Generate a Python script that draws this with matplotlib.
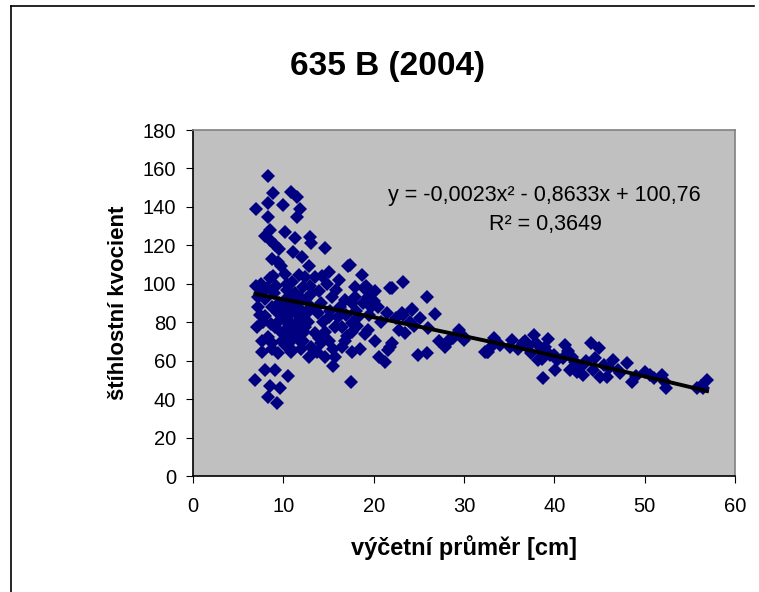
import matplotlib
matplotlib.use('Agg')
import matplotlib.pyplot as plt
import numpy as np
from matplotlib.lines import Line2D

plt.rcParams['font.family'] = ['Liberation Sans', 'DejaVu Sans']

# výčetní průměr [cm] a štíhlostní kvocient
prumer = [
    7.0, 8.3, 8.3, 8.9, 8.3, 8.0, 8.5, 9.1, 8.7, 9.4, 9.7, 7.0, 8.5, 7.2, 8.0, 8.7, 9.4, 7.05, 9.1, 9.8,
    8.3, 8.7, 7.6, 7.6, 9.4, 8.0, 9.1, 6.9, 8.5, 9.6, 8.3, 9.3, 7.5, 8.0, 9.0, 9.5, 7.8, 8.6, 9.6, 8.2,
    9.2, 7.4, 9.9, 8.8, 9.8, 7.2, 8.9, 9.5, 8.5, 7.5,
    10.0, 10.9, 11.5, 11.8, 11.5, 10.2, 11.3, 11.1, 12.8, 11.7, 12.4, 10.4, 12.2, 11.3, 10.5, 10.2, 10.9,
    11.7, 12.4, 10.5, 11.3, 10.2, 11.7, 12.2, 10.9, 12.8, 10.5, 13.0, 13.1, 13.5, 13.1, 13.5, 13.1, 10.3,
    10.8, 11.2, 11.9, 12.5, 10.6, 11.5, 12.0, 10.1, 11.0, 12.6, 10.4, 11.8, 12.3, 10.8, 12.0, 11.4, 10.0,
    12.7, 11.6, 10.7, 13.2, 12.9, 10.2, 11.0, 12.1,
    14.6, 15.0, 14.8, 17.2, 17.4, 18.7, 18.9, 17.9, 17.6, 16.8, 15.4, 14.2, 15.0, 16.1, 17.6, 18.3, 16.5,
    15.7, 14.6, 17.6, 19.0, 14.2, 16.8, 16.5, 17.6, 15.7, 15.5, 14.6, 13.7, 17.5, 19.8, 19.4, 20.1, 20.5,
    19.4, 20.1, 14.0, 15.8, 16.3, 18.0, 18.8, 19.5, 15.2, 14.4, 16.9, 17.9, 13.9, 15.0, 18.5, 19.7, 16.2,
    14.3, 18.1, 17.0, 15.5, 13.8, 19.2, 20.0,
    23.3, 22.0, 21.8, 25.9, 26.8, 24.2, 23.1, 23.3, 25.1, 23.5, 22.0, 21.6, 21.3, 24.9, 25.9, 28.3, 29.4,
    27.9, 29.4, 28.5, 24.2, 21.8, 20.8, 21.5, 22.5, 24.0, 24.5, 22.8, 26.0, 28.8, 29.9, 27.2, 20.6, 30.0,
    32.3, 32.7, 32.5, 33.3, 35.3, 35.1, 36.8, 37.7, 38.0, 39.3, 38.2, 38.8, 39.5, 40.3, 41.2, 41.5, 42.3,
    42.5, 43.2, 44.1, 44.9, 44.5, 44.3, 45.1, 45.8, 43.2, 41.0, 41.7, 40.1, 34.0, 36.0, 37.0, 38.5, 39.0,
    40.0, 42.0, 43.5, 36.5, 33.0, 38.6, 37.4,
    46.5, 47.3, 48.0, 48.6, 50.0, 50.6, 51.9, 52.4, 52.2, 55.8, 56.5, 56.9, 46.0, 47.0, 49.0, 45.5, 51.0,
    56.2,
]
kvocient = [
    139, 142, 156, 147, 135, 125, 123, 120, 113, 111.5, 109, 99, 103, 88, 83, 88, 84.6, 77.7, 77.7, 74.2,
    72.5, 69, 70, 64.7, 63.8, 55, 55, 50, 47, 45.6, 41.2, 37.8, 96, 92, 95, 90, 80, 79, 81, 98,
    99, 84, 86, 66, 70, 93, 104, 118, 128, 100,
    141, 148, 145, 139, 135, 127, 124, 116.7, 109, 104.6, 103.7, 100, 98.5, 95, 93.3, 81.2, 79.5,
    83, 77.7, 72.5, 75, 68, 70.8, 70, 64.7, 62, 52, 124.5, 121, 103.7, 88, 74.2, 67.3, 88,
    85, 90, 87, 92, 78, 80, 82, 75, 71, 85, 97, 93, 75, 66, 66, 86, 84,
    80, 77, 90, 95, 99, 105, 101, 114,
    118.5, 106, 100, 109, 110, 104.6, 98, 98.5, 89.8, 91.6, 93.3, 89.8, 82.9, 82.9, 79.5, 82.9, 77.7,
    77.7, 75, 75, 74, 69, 70, 67.3, 64.7, 62, 57, 62, 64.7, 49, 95, 93, 96, 88,
    76, 70, 96, 97, 88, 86, 90, 84, 86, 80, 84, 93, 72, 70, 66, 88, 102,
    104, 78, 73, 66, 85, 99, 91,
    101, 97.6, 97.6, 93.3, 84.3, 87, 84.6, 83.8, 82, 74.2, 69, 65.5, 59.5, 63, 63.8, 70.8, 74.2,
    67.3, 76, 70.8, 86.4, 67.3, 80, 85, 82, 80, 78, 76, 77, 72, 73, 70, 62, 71,
    64.7, 64.7, 64.7, 71.6, 70.8, 67.3, 70, 73.4, 69, 71.1, 60.4, 50.8, 63, 60.4, 68.2, 65, 59.5,
    54.3, 52.5, 69, 66.4, 61.2, 55.1, 51.7, 51.7, 57.8, 61.2, 55.1, 55.1, 68, 66, 67, 65, 67,
    63, 62, 60, 69, 67, 61, 64,
    60.4, 53.4, 58.6, 49, 54.3, 52.5, 52.5, 45.6, 49, 45.6, 45.6, 50, 56, 55, 52, 58, 51,
    47,
]

# polynomický trend (z rovnice v grafu)
a2, a1, a0 = -0.0023, -0.8633, 100.76
rovnice = 'y = -0,0023x² - 0,8633x + 100,76'
r2_text = 'R² = 0,3649'

xticks = [0, 10, 20, 30, 40, 50, 60]
yticks = [0, 20, 40, 60, 80, 100, 120, 140, 160, 180]

fig = plt.figure(figsize=(7.59, 5.92), dpi=100)
ax = fig.add_axes([193 / 759, 1 - 476 / 592, 542 / 759, 346 / 592])
ax.set_facecolor('#C0C0C0')

ax.plot(prumer, kvocient, linestyle='none', marker='D', markersize=7,
        color='#000080', markeredgewidth=0)

xt = np.linspace(min(prumer), max(prumer), 200)
ax.plot(xt, a2 * xt ** 2 + a1 * xt + a0, color='black', lw=2.8)

ax.set_xlim(0, 60)
ax.set_ylim(0, 180)
ax.set_xticks(xticks)
ax.set_yticks(yticks)
ax.tick_params(direction='out', length=5, width=0.8, color='black', labelsize=14.5)
ax.tick_params(axis='x', pad=10)
ax.tick_params(axis='y', pad=7)
for s in ax.spines.values():
    s.set_color('#808080')
    s.set_linewidth(1.2)
ax.spines['bottom'].set_color('black')
ax.spines['left'].set_color('black')

ax.text(38.9, 145.7, rovnice, ha='center', va='center', fontsize=15.5)
ax.text(39.0, 131.0, r2_text, ha='center', va='center', fontsize=15.5)

fig.text(387 / 759, 1 - 67 / 592, '635 B (2004)', ha='center', va='center',
         fontsize=24, fontweight='bold')
ax.set_xlabel('výčetní průměr [cm]', fontsize=17, fontweight='bold', labelpad=14)
ax.set_ylabel('štíhlostní kvocient', fontsize=16, fontweight='bold', labelpad=10)

# rámeček grafu (oříznutý)
fig.add_artist(Line2D([11 / 759, 11 / 759], [0, 1 - 6 / 592], color='black', lw=1.2,
                      transform=fig.transFigure))
fig.add_artist(Line2D([11 / 759, 754 / 759], [1 - 6 / 592, 1 - 6 / 592], color='black', lw=1.2,
                      transform=fig.transFigure))

fig.savefig('out.png', dpi=100)
